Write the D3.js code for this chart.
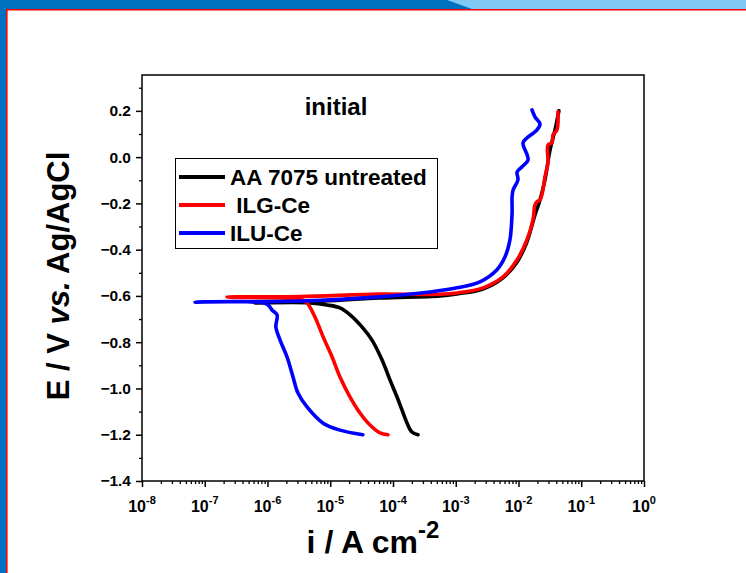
<!DOCTYPE html>
<html>
<head>
<meta charset="utf-8">
<script src="https://cdn.jsdelivr.net/npm/d3@7"></script>
<style>
  body { margin: 0; background: #fff; }
  text { font-family: Arial, "Liberation Sans", sans-serif; font-weight: bold; }
</style>
</head>
<body>
<svg id="chart" width="746" height="573"></svg>
<script>
// series: [i (A/cm2), E (V vs Ag/AgCl)]
var untreated = [
  [2.5e-4, -1.2], [2.0e-4, -1.188], [1.67e-4, -1.149], [1.39e-4, -1.093], [1.16e-4, -1.037],
  [8.95e-5, -0.963], [6.7e-5, -0.877], [4.6e-5, -0.79], [3.2e-5, -0.734], [2.07e-5, -0.682],
  [1.43e-5, -0.652], [8.9e-6, -0.639], [4.75e-6, -0.63], [6.3e-7, -0.63],
  [3.3e-6, -0.626], [6.2e-5, -0.609], [5.6e-4, -0.6], [1.05e-3, -0.591], [2.72e-3, -0.57],
  [5.66e-3, -0.522], [9.5e-3, -0.453], [1.36e-2, -0.367], [1.83e-2, -0.25], [2.2e-2, -0.185],
  [2.64e-2, -0.098], [3.18e-2, 0.031], [3.82e-2, 0.118], [4.4e-2, 0.2]
];
var ilgCe = [
  [8.3e-5, -1.2], [6.2e-5, -1.192], [4.3e-5, -1.158], [2.98e-5, -1.106], [2.07e-5, -1.037],
  [1.43e-5, -0.95], [1.07e-5, -0.864], [7.7e-6, -0.777], [5.7e-6, -0.691], [4.26e-6, -0.63],
  [3.55e-6, -0.617], [2.26e-7, -0.605],
  [3.3e-6, -0.603], [6.2e-5, -0.592], [5.6e-4, -0.593], [1.05e-3, -0.587], [2.72e-3, -0.565],
  [5.66e-3, -0.518], [9.5e-3, -0.444], [1.36e-2, -0.358], [1.70e-2, -0.271], [1.83e-2, -0.206],
  [1.97e-2, -0.193], [2.2e-2, -0.185], [2.45e-2, -0.142], [2.64e-2, -0.085], [2.95e-2, -0.025],
  [2.95e-2, 0.053], [3.42e-2, 0.062], [3.55e-2, 0.096], [4.1e-2, 0.118], [4.26e-2, 0.196]
];
var iluCe = [
  [3.3e-5, -1.2], [1.43e-5, -1.18], [7.7e-6, -1.15], [4.26e-6, -1.08], [3.06e-6, -1.02],
  [2.55e-6, -0.95], [2.05e-6, -0.864], [1.58e-6, -0.79], [1.36e-6, -0.734], [1.42e-6, -0.682],
  [1.18e-6, -0.661], [9.8e-7, -0.635], [7.0e-8, -0.627],
  [3.3e-6, -0.622], [6.2e-5, -0.604], [3.9e-4, -0.583], [1.05e-3, -0.565], [2.43e-3, -0.539],
  [4.5e-3, -0.488], [6.1e-3, -0.431], [7.3e-3, -0.358], [7.9e-3, -0.241], [7.9e-3, -0.172],
  [8.2e-3, -0.142], [9.8e-3, -0.098], [9.5e-3, -0.064], [1.14e-2, -0.042], [1.42e-2, -0.012],
  [1.18e-2, 0.062], [1.36e-2, 0.083], [1.97e-2, 0.118], [2.2e-2, 0.143], [1.83e-2, 0.174],
  [1.64e-2, 0.204]
];

var seriesNames = ["AA 7075 untreated", " ILG-Ce", "ILU-Ce"];
var seriesColors = ["#000000", "#ff0000", "#0000ff"];
var seriesData = [untreated, ilgCe, iluCe];

var xMajor = [-8, -7, -6, -5, -4, -3, -2, -1, 0];
var yMajor = [0.2, 0.0, -0.2, -0.4, -0.6, -0.8, -1.0, -1.2, -1.4];
var yMinor = [0.3, 0.1, -0.1, -0.3, -0.5, -0.7, -0.9, -1.1, -1.3];

var svg = d3.select("#chart");

// slide frame
svg.append("rect").attr("x", 0).attr("y", 0).attr("width", 746).attr("height", 9).attr("fill", "#0070c0");
svg.append("rect").attr("x", 0).attr("y", 0).attr("width", 6).attr("height", 573).attr("fill", "#0070c0");
svg.append("path").attr("d", "M447,0 L746,0 L746,9 L472,9 Z").attr("fill", "#7fc9f4");
svg.append("path").attr("d", "M6.8,573 L6.8,9.8 L746,9.8").attr("fill", "none")
   .attr("stroke", "#ff0000").attr("stroke-width", 1.6);

var margin = {left: 142, right: 644, top: 75, bottom: 481};

var x = d3.scaleLog().domain([1e-8, 1]).range([margin.left, margin.right]);
var y = d3.scaleLinear().domain([-1.4, 0.355]).range([margin.bottom, margin.top]);

// minor x ticks
var xMinor = [];
for (var e = -8; e < 0; e++) {
  for (var k = 2; k <= 9; k++) xMinor.push(k * Math.pow(10, e));
}

var gx = svg.append("g").attr("transform", "translate(0," + margin.bottom + ")");
gx.call(d3.axisBottom(x).tickValues(xMinor).tickSize(3).tickFormat(""))
  .call(function(g) { g.select(".domain").remove(); });
gx.selectAll("line").attr("stroke-width", 1.3);

var gx2 = svg.append("g").attr("transform", "translate(0," + margin.bottom + ")");
gx2.call(d3.axisBottom(x).tickValues(xMajor.map(function(d) { return Math.pow(10, d); })).tickSize(6).tickFormat(""))
  .call(function(g) { g.select(".domain").remove(); });
gx2.selectAll("line").attr("stroke-width", 1.5);

var xlab = svg.append("g").selectAll("text").data(xMajor).enter().append("text")
  .attr("x", function(d) { return x(Math.pow(10, d)); })
  .attr("y", 512)
  .attr("text-anchor", "middle")
  .style("font-size", "16px");
xlab.append("tspan").text("10");
xlab.append("tspan").attr("dy", -8).style("font-size", "11px").text(function(d) { return d; });

var gy = svg.append("g").attr("transform", "translate(" + margin.left + ",0)");
gy.call(d3.axisLeft(y).tickValues(yMinor).tickSize(3).tickFormat(""))
  .call(function(g) { g.select(".domain").remove(); });
gy.selectAll("line").attr("stroke-width", 1.3);

var gy2 = svg.append("g").attr("transform", "translate(" + margin.left + ",0)");
gy2.call(d3.axisLeft(y).tickValues(yMajor).tickSize(6).tickPadding(5).tickFormat(d3.format(".1f")))
  .call(function(g) { g.select(".domain").remove(); });
gy2.selectAll("line").attr("stroke-width", 1.5);
gy2.selectAll("text").style("font-size", "15.5px").attr("font-family", null).attr("fill", "#000");

// frame of the plot
svg.append("rect")
  .attr("x", margin.left).attr("y", margin.top)
  .attr("width", margin.right - margin.left).attr("height", margin.bottom - margin.top)
  .attr("fill", "none").attr("stroke", "#000").attr("stroke-width", 1.5);

// curves
var line = d3.line()
  .x(function(d) { return x(d[0]); })
  .y(function(d) { return y(d[1]); })
  .curve(d3.curveCatmullRom.alpha(0.5));

var plot = svg.append("g");
seriesData.forEach(function(data, i) {
  plot.append("path")
    .datum(data)
    .attr("d", line)
    .attr("fill", "none")
    .attr("stroke", seriesColors[i])
    .attr("stroke-width", 3.6)
    .attr("stroke-linejoin", "round")
    .attr("stroke-linecap", "round");
});

// title
svg.append("text").attr("x", 336).attr("y", 115).attr("text-anchor", "middle")
  .style("font-size", "24px").text("initial");

// legend
var legend = svg.append("g");
legend.append("rect").attr("x", 175.5).attr("y", 158.5).attr("width", 262).attr("height", 90)
  .attr("fill", "#fff").attr("stroke", "#000").attr("stroke-width", 1);
var rowY = [177, 205, 233];
seriesNames.forEach(function(name, i) {
  legend.append("line").attr("x1", 179).attr("x2", 225).attr("y1", rowY[i]).attr("y2", rowY[i])
    .attr("stroke", seriesColors[i]).attr("stroke-width", 4);
  legend.append("text").attr("x", 230).attr("y", rowY[i] + 8)
    .style("font-size", "22.5px").style("white-space", "pre").text(name);
});

// axis titles
var ytitle = svg.append("text")
  .attr("transform", "translate(69,276) rotate(-90)")
  .attr("text-anchor", "middle")
  .style("font-size", "31px");
ytitle.append("tspan").text("E / V ");
ytitle.append("tspan").style("font-style", "italic").text("vs.");
ytitle.append("tspan").text(" Ag/AgCl");

var xtitle = svg.append("text").attr("x", 373).attr("y", 553).attr("text-anchor", "middle")
  .style("font-size", "32px");
xtitle.append("tspan").text("i / A cm");
xtitle.append("tspan").attr("dy", -15).style("font-size", "24px").text("-2");
</script>
</body>
</html>
